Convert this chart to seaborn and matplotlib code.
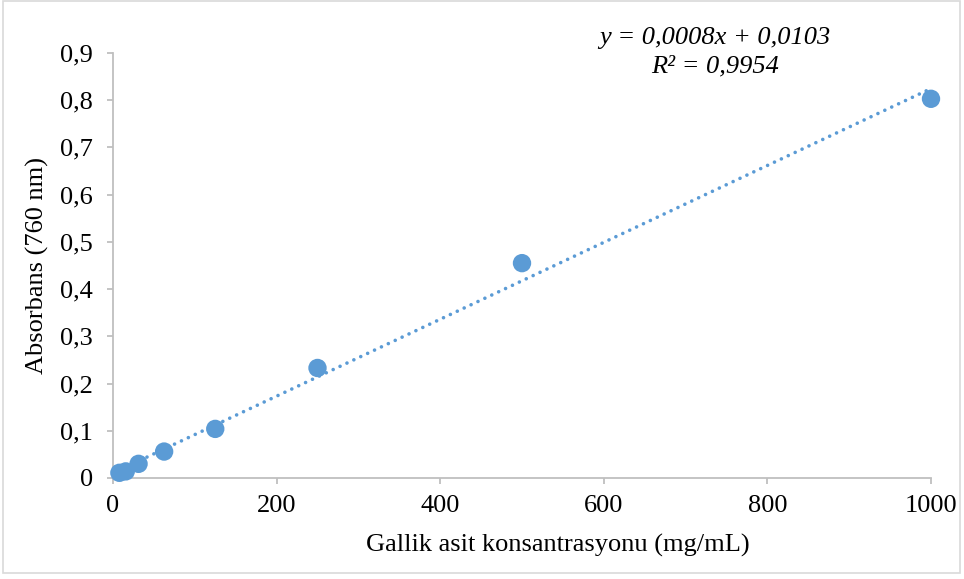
import numpy as np
import pandas as pd
import matplotlib
matplotlib.use("Agg")
import matplotlib.pyplot as plt
from matplotlib.patches import Rectangle
import seaborn as sns

# ---- data ----
concentration = [7.8, 15.6, 31.25, 62.5, 125, 250, 500, 1000]
absorbance = [0.011, 0.014, 0.030, 0.056, 0.104, 0.233, 0.455, 0.803]
x_ticks = [0, 200, 400, 600, 800, 1000]
x_tick_labels = ["0", "200", "400", "600", "800", "1000"]
y_ticks = [0, 0.1, 0.2, 0.3, 0.4, 0.5, 0.6, 0.7, 0.8, 0.9]
y_tick_labels = ["0", "0,1", "0,2", "0,3", "0,4", "0,5", "0,6", "0,7", "0,8", "0,9"]
equation_text = "y = 0,0008x + 0,0103\nR² = 0,9954"
x_label = "Gallik asit konsantrasyonu (mg/mL)"
y_label = "Absorbans (760 nm)"

df = pd.DataFrame({"conc": concentration, "abs": absorbance})

sns.set_theme(style="white")
plt.rcParams["font.family"] = ["Liberation Serif", "DejaVu Serif"]

W, H = 964, 579
FS = 19
fig = plt.figure(figsize=(W / 100, H / 100), dpi=100)
ax = fig.add_axes([113 / W, 1 - 478 / H, (931 - 113) / W, (478 - 53) / H])

blue = "#5B9BD5"
grey = "#BFBFBF"

# trendline (linear fit across the data range)
slope, intercept = np.polyfit(df["conc"], df["abs"], 1)
xs = np.array([df["conc"].min(), df["conc"].max()])
ax.plot(xs, slope * xs + intercept, color=blue, lw=2.6,
        linestyle=(0, (0.01, 2.1)), dash_capstyle="round", zorder=2,
        clip_on=False)

sns.scatterplot(data=df, x="conc", y="abs", ax=ax, color=blue, s=175,
                edgecolor="none", linewidth=0, zorder=3, clip_on=False)

ax.set_xlim(0, 1000)
ax.set_ylim(0, 0.9)
ax.set_xticks(x_ticks)
ax.set_xticklabels(x_tick_labels)
ax.set_yticks(y_ticks)
ax.set_yticklabels(y_tick_labels)

for s in ["top", "right"]:
    ax.spines[s].set_visible(False)
for s in ["left", "bottom"]:
    ax.spines[s].set_color(grey)
    ax.spines[s].set_linewidth(1.3)

ax.tick_params(axis="both", which="major", direction="out", length=4.5,
               width=1.3, color=grey, labelsize=FS, labelcolor="black")
ax.tick_params(axis="y", pad=10)
ax.tick_params(axis="x", pad=8)
ax.tick_params(left=True, bottom=True)

ax.set_xlabel(x_label, fontsize=FS, color="black", labelpad=12)
ax.xaxis.label.set_x((558 - 113) / (931 - 113))
ax.set_ylabel(y_label, fontsize=FS, color="black", labelpad=8)

fig.text(715 / W, 1 - 52 / H, equation_text, ha="center", va="center",
         fontsize=FS, style="italic", color="black", linespacing=1.4)

# chart-area border
fig.patches.append(Rectangle((3 / W, 1 - 573 / H), (960 - 3) / W, (573 - 1) / H,
                             transform=fig.transFigure, fill=False,
                             edgecolor="#D9D9D9", linewidth=1.2))

fig.savefig("out.png", dpi=100)
